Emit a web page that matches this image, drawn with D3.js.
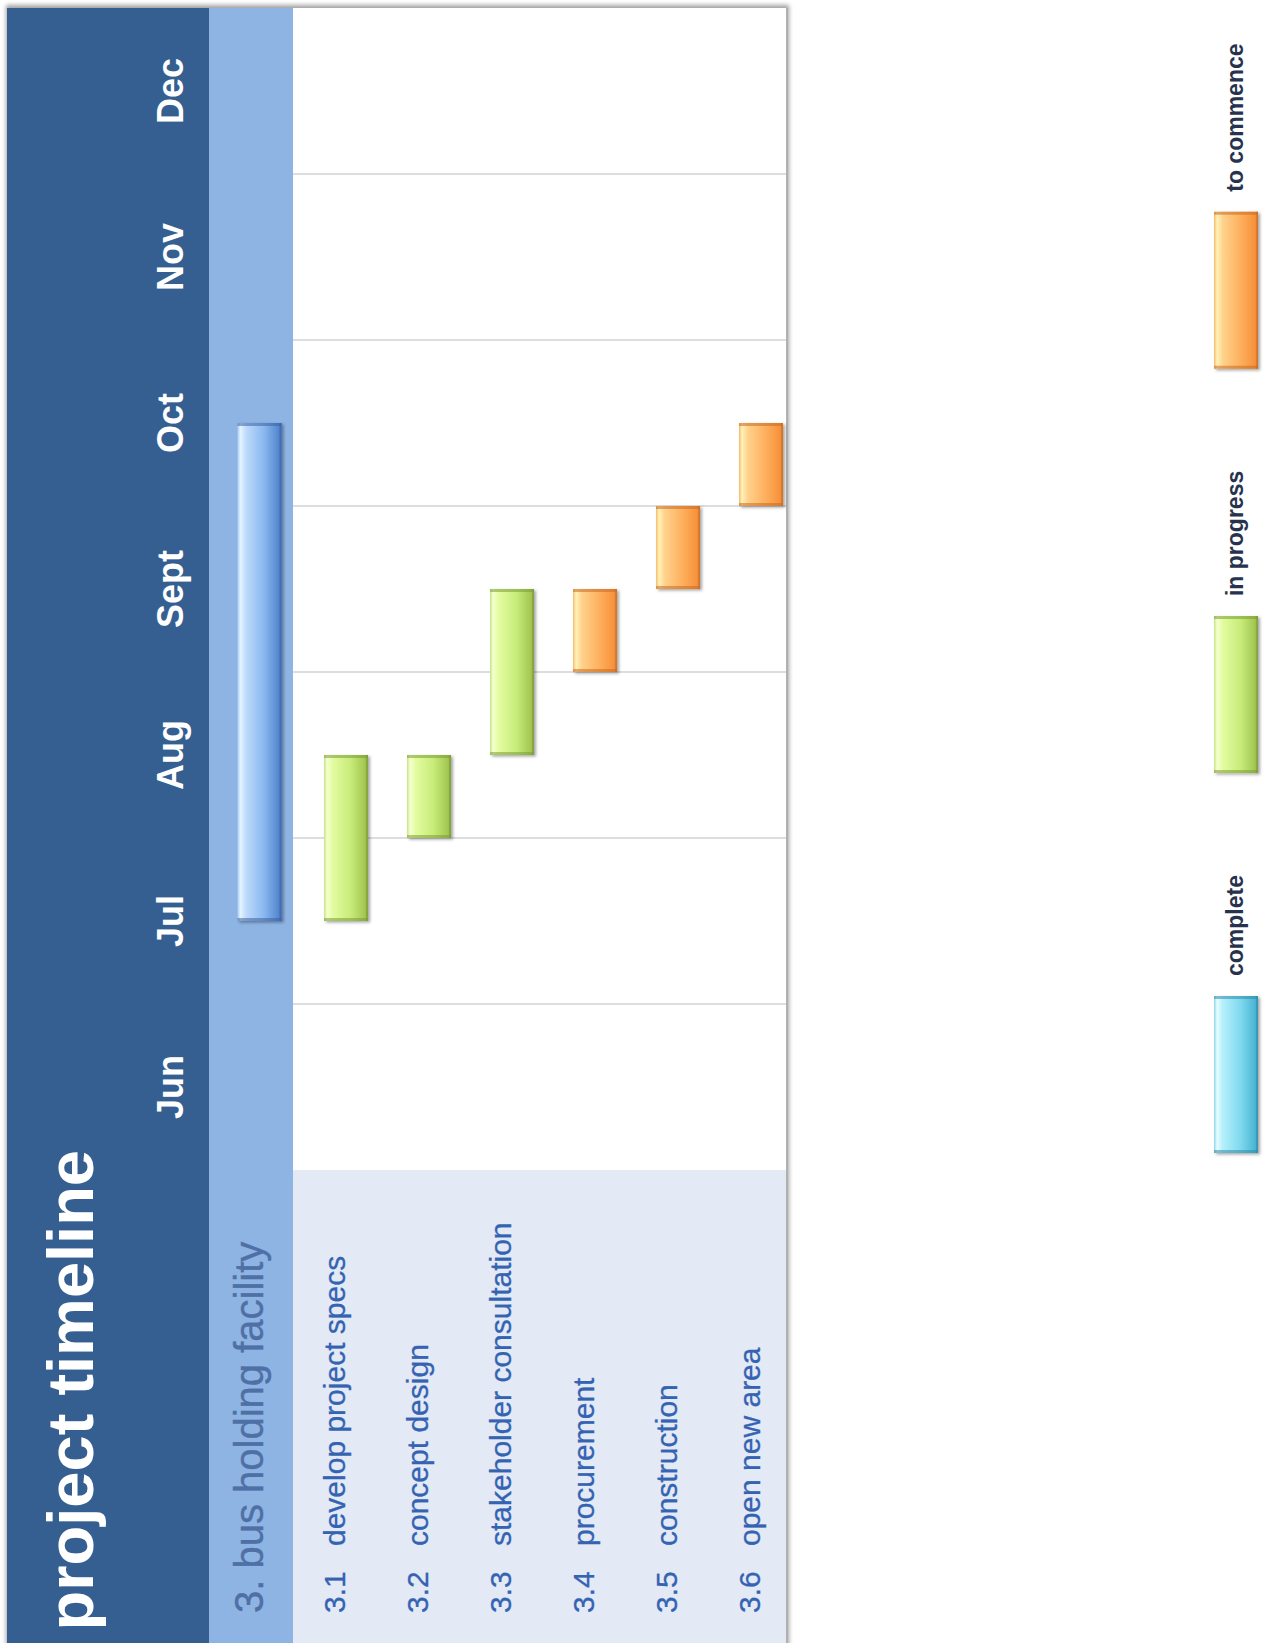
<!DOCTYPE html>
<html><head><meta charset="utf-8">
<script src="https://cdn.jsdelivr.net/npm/d3@7"></script>
<style>
body{margin:0;background:#fff;}
svg{display:block;font-family:"Liberation Sans",Arial,sans-serif;}
</style>
</head><body>
<svg id="c" width="1271" height="1643"></svg>
<script>
// ---------- data ----------
const title = "project timeline";
const months = ["Jun","Jul","Aug","Sept","Oct","Nov","Dec"];
const groupLabel = "3. bus holding facility";
const summaryStart = 1.5;   // months after 1 Jun
const summaryEnd = 4.5;
const taskIds = ["3.1","3.2","3.3","3.4","3.5","3.6"];
const taskNames = ["develop project specs","concept design","stakeholder consultation","procurement","construction","open new area"];
const taskStart = [1.5, 2.0, 2.5, 3.0, 3.5, 4.0];
const taskEnd   = [2.5, 2.5, 3.5, 3.5, 4.0, 4.5];
const taskStatus = ["in progress","in progress","in progress","to commence","to commence","to commence"];
const legendItems = ["complete","in progress","to commence"];

// ---------- layout ----------
const svg = d3.select("#c");
const panelX0 = 7, stripX0 = 209, plotX0 = 293, plotX1 = 786, topY = 8, H = 1643;
const barW = 44;

const t = d3.scaleLinear().domain([0, months.length]).range([1170, topY]);
const row = d3.scalePoint().domain(taskIds).range([346, 761]);

const palettes = {
  "complete":    [["#8fd6ea",0],["#e6fdff",0.07],["#b4f0fb",0.2],["#80d9ef",0.6],["#4cb7d4",0.93],["#3a9fbf",1]],
  "in progress": [["#c4e484",0],["#f6ffd0",0.07],["#e2fca0",0.2],["#c8ec7a",0.6],["#a3c752",0.93],["#8aab42",1]],
  "to commence": [["#f4bc6c",0],["#fff2b8",0.07],["#ffd28c",0.2],["#fdb05e",0.6],["#f7923c",0.93],["#de7d2e",1]],
  "summary":     [["#a8cdf5",0],["#e4f3ff",0.07],["#bcdafb",0.2],["#8ab8ef",0.6],["#5588d0",0.93],["#4470b5",1]]
};
const edgeCol = {"complete":"#2f8aa8","in progress":"#7a9a36","to commence":"#c86a22","summary":"#3a62a6"};

const defs = svg.append("defs");
Object.entries(palettes).forEach(([k, stops]) => {
  const g = defs.append("linearGradient").attr("id", "g-" + k.replace(/\s/g, "_"))
    .attr("x1", 0).attr("x2", 1).attr("y1", 0).attr("y2", 0);
  stops.forEach(([c, o]) => g.append("stop").attr("offset", o).attr("stop-color", c));
});
const ds = defs.append("filter").attr("id", "ds").attr("x", "-30%").attr("y", "-10%").attr("width", "160%").attr("height", "120%");
ds.append("feDropShadow").attr("dx", 2).attr("dy", 1.5).attr("stdDeviation", 1.6).attr("flood-color", "#000").attr("flood-opacity", 0.35);
const blur = defs.append("filter").attr("id", "blur").attr("x", "-5%").attr("y", "-5%").attr("width", "110%").attr("height", "110%");
blur.append("feGaussianBlur").attr("stdDeviation", 2.2);

function drawBar(g, x, y0, y1, status) {
  const key = status.replace(/\s/g, "_");
  const b = g.append("g").attr("filter", "url(#ds)");
  const h = y1 - y0;
  b.append("rect").attr("x", x).attr("y", y0).attr("width", barW).attr("height", h)
    .attr("fill", `url(#g-${key})`);
  b.append("rect").attr("x", x).attr("y", y0).attr("width", barW).attr("height", 3)
    .attr("fill", edgeCol[status]).attr("opacity", 0.55);
  b.append("rect").attr("x", x).attr("y", y1 - 3).attr("width", barW).attr("height", 3)
    .attr("fill", edgeCol[status]).attr("opacity", 0.55);
  b.append("rect").attr("x", x + barW - 2).attr("y", y0).attr("width", 2).attr("height", h)
    .attr("fill", edgeCol[status]).attr("opacity", 0.45);
}

// ---------- frame ----------
svg.append("rect").attr("x", panelX0 - 1).attr("y", topY - 3).attr("width", plotX1 - panelX0 + 4).attr("height", H)
  .attr("fill", "#7a7a7a").attr("opacity", 0.7).attr("filter", "url(#blur)");
svg.append("rect").attr("x", panelX0).attr("y", topY).attr("width", stripX0 - panelX0).attr("height", H).attr("fill", "#365f91");
svg.append("rect").attr("x", stripX0).attr("y", topY).attr("width", plotX0 - stripX0).attr("height", H).attr("fill", "#8eb4e3");
svg.append("rect").attr("x", plotX0).attr("y", topY).attr("width", plotX1 - plotX0).attr("height", H).attr("fill", "#ffffff");
svg.append("rect").attr("x", plotX0).attr("y", t(0)).attr("width", plotX1 - plotX0).attr("height", H - t(0)).attr("fill", "#e3eaf6");
svg.append("line").attr("x1", plotX1 + 1).attr("x2", plotX1 + 1).attr("y1", topY).attr("y2", H)
  .attr("stroke", "#b0b0b0").attr("stroke-width", 2);

// gridlines at month boundaries
svg.append("g").selectAll("line").data(d3.range(1, months.length)).join("line")
  .attr("x1", plotX0).attr("x2", plotX1)
  .attr("y1", d => t(d)).attr("y2", d => t(d))
  .attr("stroke", "#d2d2d2").attr("stroke-width", 1.5);

// ---------- texts ----------
svg.append("text").attr("transform", `translate(93,${1150}) rotate(-90)`)
  .attr("text-anchor", "end").attr("fill", "#fff").attr("font-weight", "bold").attr("font-size", 65)
  .text(title);

svg.append("g").selectAll("text").data(months).join("text")
  .attr("transform", (d, i) => `translate(183,${t(i + 0.5)}) rotate(-90)`)
  .attr("text-anchor", "middle").attr("fill", "#fff").attr("font-weight", "bold").attr("font-size", 36)
  .text(d => d);

svg.append("text").attr("transform", `translate(263,1613) rotate(-90)`)
  .attr("fill", "#4f70a6").attr("font-size", 40).attr("stroke", "#4f70a6").attr("stroke-width", 0.4)
  .text(groupLabel);

const lab = svg.append("g").attr("fill", "#3463b2").attr("font-size", 30)
  .attr("stroke", "#3463b2").attr("stroke-width", 0.3);
lab.selectAll("text.num").data(taskIds).join("text").attr("class", "num")
  .attr("transform", d => `translate(${row(d) - 1},1613) rotate(-90)`).text(d => d);
lab.selectAll("text.name").data(taskNames).join("text").attr("class", "name")
  .attr("transform", (d, i) => `translate(${row(taskIds[i]) - 1},1546) rotate(-90)`).text(d => d);

// ---------- bars ----------
const bars = svg.append("g");
drawBar(bars, 259.5 - barW / 2, t(summaryEnd), t(summaryStart), "summary");
taskIds.forEach((id, i) => {
  drawBar(bars, row(id) - barW / 2, t(taskEnd[i]), t(taskStart[i]), taskStatus[i]);
});

// ---------- legend ----------
const leg = svg.append("g");
let pos = 1153;
const swLen = 157, lx = 1214;
legendItems.forEach(item => {
  drawBar(leg, lx, pos - swLen, pos, item);
  const txt = leg.append("text")
    .attr("transform", `translate(1243,${pos - swLen - 20}) rotate(-90)`)
    .attr("fill", "#27334d").attr("font-weight", "bold").attr("font-size", 23).text(item);
  const L = txt.node().getComputedTextLength();
  pos = pos - swLen - 20 - L - 102;
});
</script>
</body></html>
